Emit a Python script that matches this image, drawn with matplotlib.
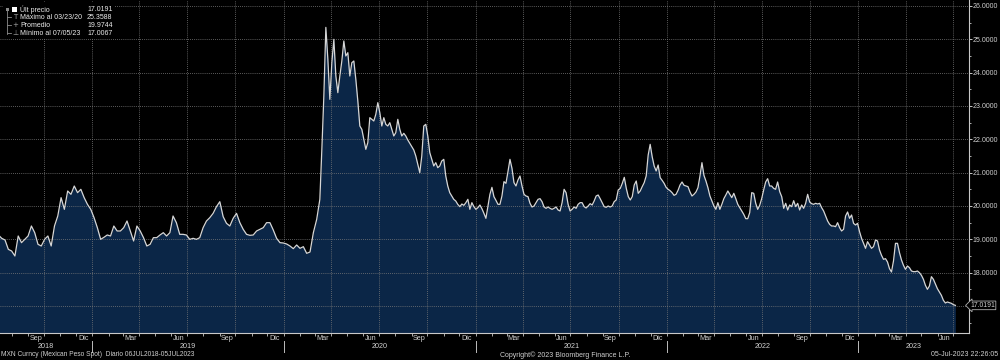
import numpy as np
import pandas as pd
import matplotlib
matplotlib.use("Agg")
import matplotlib.pyplot as plt
import matplotlib.dates as mdates
import matplotlib.transforms as mtransforms
from matplotlib.patches import Rectangle
from matplotlib.ticker import FuncFormatter, MultipleLocator

plt.rcParams['font.family'] = ['Liberation Sans', 'DejaVu Sans']

# ---------------- data (USD/MXN spot) ----------------
segA_range = ('2018-07-06', '2019-05-29')
segA_vals = [19.13, 19.03, 18.98, 18.7, 18.65, 18.5, 19.1, 18.9, 19.0, 19.1, 19.4, 19.2, 18.85,
             18.8, 19.0, 19.1, 18.8, 19.4, 19.7, 20.25, 19.9, 20.45, 20.35, 20.6, 20.4, 20.5,
             20.25, 20.05, 19.9, 19.65, 19.35, 19.0, 19.06, 19.13, 19.1, 19.4, 19.25, 19.25,
             19.35, 19.55, 19.25, 18.95, 19.4, 19.25, 19.05, 18.8, 18.85, 19.05, 19.05, 19.13,
             19.2, 19.1, 19.2]

segB_range = ('2019-06-04', '2020-03-04')
segB_vals = [19.7, 19.5, 19.15, 19.15, 19.13, 19.0, 19.03, 19.0, 19.05, 19.35, 19.55, 19.65,
             19.78, 19.98, 20.13, 19.68, 19.48, 19.4, 19.63, 19.78, 19.5, 19.3, 19.15, 19.12,
             19.13, 19.25, 19.3, 19.35, 19.5, 19.5, 19.28, 19.03, 18.9, 18.89, 18.86, 18.8,
             18.72, 18.83, 18.73, 18.78, 18.58, 18.62, 19.2, 19.6]

segC_range = ('2020-03-10', '2020-11-28')
segC_vals = [20.2, 21.7, 23.3, 25.3588, 24.4, 23.2, 24.3, 25.0, 23.9, 23.4, 23.9, 24.35, 24.95,
             24.5, 24.6, 23.9, 24.3, 24.35, 23.8, 23.15, 22.4, 22.3, 22.0, 21.7, 21.9, 22.65,
             22.6, 22.55, 22.75, 23.1, 22.8, 22.4, 22.65, 22.45, 22.4, 22.5, 22.3, 22.1, 22.2,
             22.6, 22.3, 22.1, 22.18, 22.1, 21.98, 21.88, 21.78, 21.68, 21.5, 21.25, 21.0,
             21.5, 22.4, 22.45, 22.1, 21.6, 21.4, 21.2, 21.3, 21.15, 21.2, 21.35, 21.4, 20.9,
             20.6, 20.4, 20.3, 20.2, 20.15, 20.05]

segD_range = ('2020-12-02', '2021-09-30')
segD_vals = [19.98, 20.06, 20.02, 20.1, 20.2, 19.9, 20.1, 19.98, 19.9, 19.95, 20.03, 19.92,
             19.78, 19.63, 20.0, 20.35, 20.56, 20.28, 20.17, 20.05, 20.05, 20.3, 20.73, 20.68,
             21.03, 21.4, 21.13, 20.7, 20.6, 20.78, 20.9, 20.6, 20.35, 20.3, 20.28, 20.08,
             19.97, 20.0, 20.1, 20.2, 20.22, 20.13, 19.97, 19.93, 19.97, 19.93, 19.9, 19.93,
             19.97, 19.88, 19.85, 20.1, 20.5, 20.4, 20.05, 19.85, 19.9, 19.97, 19.93, 20.05,
             20.1, 20.1, 19.98, 19.94, 20.0, 20.07, 20.03, 20.15, 20.3, 20.33, 20.22, 20.1,
             19.98, 19.96, 20.0, 19.97, 20.0, 20.13, 20.18, 20.48]

segE_range = ('2021-10-04', '2022-07-31')
segE_vals = [20.53, 20.68, 20.86, 20.53, 20.28, 20.18, 20.28, 20.63, 20.75, 20.38, 20.45,
             20.58, 20.7, 20.9, 21.53, 21.85, 21.48, 21.2, 21.05, 21.23, 20.85, 20.77, 20.68,
             20.56, 20.5, 20.46, 20.4, 20.32, 20.35, 20.47, 20.63, 20.72, 20.62, 20.6, 20.58,
             20.42, 20.3, 20.35, 20.42, 20.55, 20.9, 21.3, 20.92, 20.75, 20.55, 20.3, 20.15,
             20.0, 19.9, 20.1, 19.9, 20.05, 20.22, 20.33, 20.45, 20.35, 20.25, 20.38, 20.22,
             20.05, 19.95, 19.85, 19.75, 19.62, 19.62, 19.8, 20.4, 20.38, 20.08, 19.9, 20.02,
             20.22, 20.48, 20.72, 20.82, 20.6, 20.6, 20.53, 20.5, 20.72]

segF_range = ('2022-08-04', '2023-07-05')
segF_vals = [20.43, 20.28, 19.93, 20.08, 19.88, 20.03, 19.98, 20.16, 19.98, 20.08, 19.88,
             20.03, 19.93, 20.08, 20.35, 20.12, 20.07, 20.05, 20.08, 20.06, 20.08, 19.95,
             19.85, 19.7, 19.55, 19.45, 19.4, 19.4, 19.38, 19.5, 19.35, 19.25, 19.3, 19.7,
             19.82, 19.63, 19.73, 19.48, 19.43, 19.48, 19.23, 19.03, 18.88, 18.73, 18.93,
             18.83, 18.73, 18.78, 18.98, 18.95, 18.68, 18.52, 18.4, 18.42, 18.32, 18.12, 18.02,
             18.35, 18.88, 18.88, 18.6, 18.38, 18.22, 18.1, 18.2, 18.15, 18.05, 18.03, 18.03,
             18.05, 18.0, 17.92, 17.8, 17.62, 17.5, 17.6, 17.88, 17.8, 17.66, 17.52, 17.42,
             17.32, 17.17, 17.09, 17.12, 17.1, 17.08, 17.04, 17.0191]

segments = [(segA_range, segA_vals), (segB_range, segB_vals), (segC_range, segC_vals),
            (segD_range, segD_vals), (segE_range, segE_vals), (segF_range, segF_vals)]

legend_labels = ['Últ precio', 'Máximo al 03/23/20', 'Promedio', 'Mínimo al 07/05/23']
legend_values = ['17.0191', '25.3588', '19.9744', '17.0067']
last_price = 17.0191
month_names = {3: 'Mar', 6: 'Jun', 9: 'Sep', 12: 'Dic'}
years = [2018, 2019, 2020, 2021, 2022, 2023]
y_ticks = [17, 18, 19, 20, 21, 22, 23, 24, 25, 26]

# ---------------- build series ----------------
dates_list, vals_list = [], []
for (start, end), vals in segments:
    dates_list.append(pd.date_range(start, end, periods=len(vals)))
    vals_list.extend(vals)
dates = dates_list[0]
for d in dates_list[1:]:
    dates = dates.append(d)
values = np.array(vals_list)

# ---------------- figure ----------------
BG = '#000000'
FILL = '#0b2647'
LINE = '#d6d6d6'
TXT = '#d0d0d0'
GRID = '#7a7a7a'

fig = plt.figure(figsize=(10, 3.6), dpi=100, facecolor=BG)
ax = fig.add_axes([0.0, 27 / 360, 0.969, 333 / 360])
ax.set_facecolor(BG)

ymin, ymax = 16.19, 26.18
xmin, xmax = pd.Timestamp('2018-07-09'), pd.Timestamp('2023-07-31')
ax.set_ylim(ymin, ymax)
ax.set_xlim(xmin, xmax)

ax.fill_between(dates, values, ymin, color=FILL, lw=0, zorder=1)
ax.plot(dates, values, color=LINE, lw=0.9, zorder=2)

# axes styling
for s in ['left', 'top']:
    ax.spines[s].set_visible(False)
for s in ['right', 'bottom']:
    ax.spines[s].set_color('#c8c8c8')
    ax.spines[s].set_linewidth(0.8)

ax.yaxis.tick_right()
ax.set_yticks(y_ticks)
ax.yaxis.set_major_formatter(FuncFormatter(lambda v, p: '' if abs(v - last_price) < 0.5 else f'{v:.4f}'))
ax.yaxis.set_minor_locator(MultipleLocator(0.5))
ax.tick_params(axis='y', which='major', colors='#c8c8c8', labelcolor=TXT, labelsize=5.0,
               length=2, width=0.7, pad=0.8)
ax.tick_params(axis='y', which='minor', colors='#c8c8c8', length=1.5, width=0.6)

ax.xaxis.set_major_locator(mdates.MonthLocator(bymonth=[1, 4, 7, 10]))
ax.xaxis.set_minor_locator(mdates.MonthLocator())
ax.xaxis.set_major_formatter(FuncFormatter(lambda v, p: ''))
ax.tick_params(axis='x', which='both', colors='#c8c8c8', length=2.5, width=0.6)

ax.set_axisbelow('line')
ax.grid(True, which='major', color=GRID, linestyle=(0, (1, 1.5)), linewidth=0.6)

# month / year labels below axis
trans = mtransforms.blended_transform_factory(ax.transData, fig.transFigure)
for yr in years:
    for m, name in month_names.items():
        d = pd.Timestamp(year=yr, month=m, day=15)
        if xmin <= d <= xmax:
            ax.text(mdates.date2num(d), 1 - 339 / 360, name, transform=trans, ha='center',
                    va='center', fontsize=5.2, color=TXT, clip_on=False)
    a = max(pd.Timestamp(year=yr, month=1, day=1), xmin)
    b = min(pd.Timestamp(year=yr + 1, month=1, day=1), xmax)
    mid = mdates.date2num(a) + (mdates.date2num(b) - mdates.date2num(a)) / 2
    ax.text(mid, 1 - 347 / 360, str(yr), transform=trans, ha='center', va='center',
            fontsize=5.2, color=TXT, clip_on=False)
    if yr > years[0]:
        xb = mdates.date2num(pd.Timestamp(year=yr, month=1, day=1))
        ax.plot([xb, xb], [1 - 341 / 360, 1 - 352 / 360], transform=trans, color='#bdbdbd',
                lw=0.7, clip_on=False)

# last price box on right axis
ytrans = mtransforms.blended_transform_factory(fig.transFigure, ax.transData)
ax.text(0.995, last_price, legend_values[0], transform=ytrans, ha='right', va='center',
        fontsize=4.9, color=TXT, clip_on=False,
        bbox=dict(boxstyle='larrow,pad=0.12', facecolor='#000000', edgecolor='#b0b0b0', lw=0.6))

# legend block (top-left)
def fx(px):
    return px / 1000

def fy(py):
    return 1 - py / 360

ax.add_patch(Rectangle((fx(3), fy(38)), fx(111), 36 / 360, transform=fig.transFigure,
                       facecolor='black', edgecolor='none', zorder=8, clip_on=False))
rows_y = [9.3, 17.3, 25.3, 33.3]
# tree line
ax.plot([fx(7), fx(7)], [fy(9), fy(34)], transform=fig.transFigure, color='#8c8c8c', lw=0.6,
        zorder=9, clip_on=False)
for ry in rows_y[1:]:
    ax.plot([fx(7), fx(11)], [fy(ry), fy(ry)], transform=fig.transFigure, color='#8c8c8c',
            lw=0.6, zorder=9, clip_on=False)
ax.add_patch(Rectangle((fx(5.5), fy(11)), fx(3), 3 / 360, transform=fig.transFigure,
                       facecolor='#8c8c8c', edgecolor='none', zorder=9, clip_on=False))
ax.add_patch(Rectangle((fx(12), fy(12)), fx(4.5), 5 / 360, transform=fig.transFigure,
                       facecolor='white', edgecolor='none', zorder=9, clip_on=False))
symbols = [None, 'T', '+', '⊥']
for sym, ry in zip(symbols, rows_y):
    if sym:
        fig.text(fx(15.5), fy(ry), sym, ha='center', va='center', fontsize=5, color='#a0a0a0',
                 zorder=10, family=['DejaVu Sans'])
for lab, val, ry in zip(legend_labels, legend_values, rows_y):
    fig.text(fx(20), fy(ry), lab, ha='left', va='center', fontsize=5.0, color='#ececec',
             zorder=10)
    fig.text(fx(87), fy(ry), val, ha='left', va='center', fontsize=5.0, color='#ececec',
             zorder=10)

# footer texts
fig.text(fx(1), fy(355), 'MXN Curncy (Mexican Peso Spot)  Diario 06JUL2018-05JUL2023',
         ha='left', va='center', fontsize=4.8, color=TXT)
fig.text(fx(500), fy(355), 'Copyright© 2023 Bloomberg Finance L.P.', ha='left', va='center',
         fontsize=5.0, color=TXT)
fig.text(fx(998), fy(355), '05-Jul-2023 22:26:05', ha='right', va='center', fontsize=5.0,
         color=TXT)

fig.savefig('out.png', dpi=100, facecolor=BG)
